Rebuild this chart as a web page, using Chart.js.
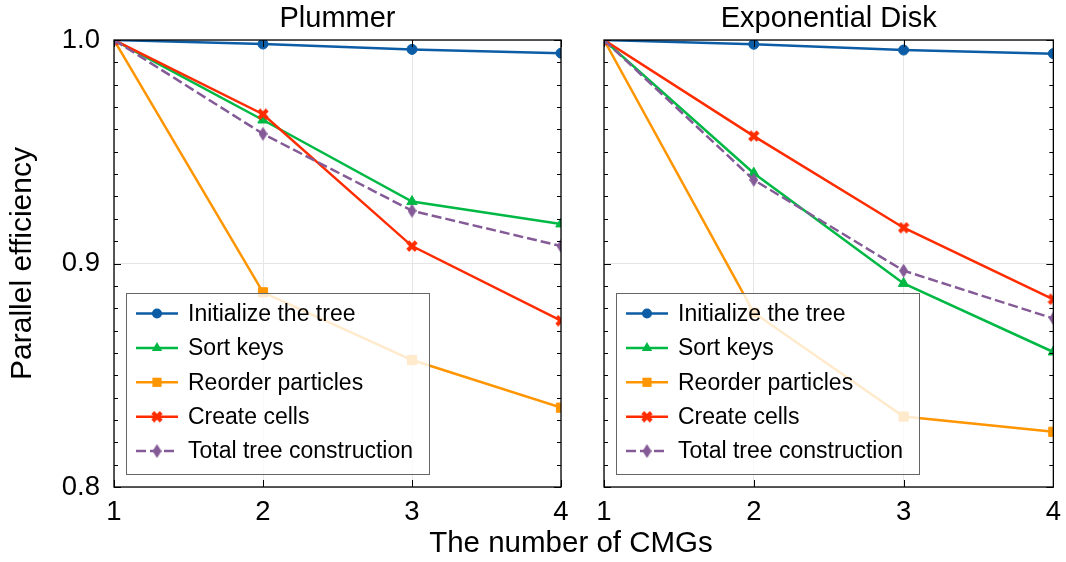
<!DOCTYPE html>
<html>
<head>
<meta charset="utf-8">
<script src="https://cdn.jsdelivr.net/npm/chart.js@4/dist/chart.umd.min.js"></script>
<style>
  html, body { margin: 0; padding: 0; background: #fff; }
  #wrap { position: relative; width: 1066px; height: 562px; overflow: hidden; font-family: "Liberation Sans", Arial, sans-serif; }
  canvas { position: absolute; top: 0; }
  #c-left { left: 0; }
  #c-right { left: 583px; }
  #xlabel { position: absolute; left: 371px; width: 400px; top: 525px; text-align: center; font-size: 29.5px; line-height: 34px; color: #000; }
</style>
</head>
<body>
<div id="wrap">
  <canvas id="c-left" width="583" height="562"></canvas>
  <canvas id="c-right" width="487" height="562"></canvas>
  <div id="xlabel">The number of CMGs</div>
</div>
<script>
"use strict";

// --- data ---
const CMGS = [1, 2, 3, 4];
const SERIES = ["Initialize the tree", "Sort keys", "Reorder particles", "Create cells", "Total tree construction"];
const Y_TICKS = [0.8, 0.9, 1.0];

const plInit    = [1.0, 0.9982, 0.9958, 0.9941];
const plSort    = [1.0, 0.9642, 0.9277, 0.9177];
const plReorder = [1.0, 0.8871, 0.8568, 0.8355];
const plCells   = [1.0, 0.9668, 0.9078, 0.8744];
const plTotal   = [1.0, 0.9580, 0.9236, 0.9078];

const edInit    = [1.0, 0.9981, 0.9955, 0.9939];
const edSort    = [1.0, 0.9404, 0.8911, 0.8604];
const edReorder = [1.0, 0.8780, 0.8315, 0.8247];
const edCells   = [1.0, 0.9570, 0.9160, 0.8840];
const edTotal   = [1.0, 0.9374, 0.8968, 0.8754];

const COLORS = ["#0C5DA5", "#00B945", "#FF9500", "#FF2C00", "#845B97"];
const FONT = "'Liberation Sans', Arial, sans-serif";

// filled "X" marker like matplotlib's
function xMarker(color, s) {
  const c = document.createElement("canvas");
  c.width = s; c.height = s;
  const g = c.getContext("2d");
  const h = s / 2, t = s * 0.17;
  g.translate(h, h);
  g.rotate(Math.PI / 4);
  g.fillStyle = color;
  g.beginPath();
  g.rect(-h, -t, s, 2 * t);
  g.rect(-t, -h, 2 * t, s);
  g.fill();
  return c;
}
// thin diamond ("d")
function thinDiamond(color, w, hgt) {
  const c = document.createElement("canvas");
  c.width = w; c.height = hgt;
  const g = c.getContext("2d");
  g.fillStyle = color;
  g.beginPath();
  g.moveTo(w / 2, 0); g.lineTo(w, hgt / 2); g.lineTo(w / 2, hgt); g.lineTo(0, hgt / 2);
  g.closePath(); g.fill();
  return c;
}

const X_IMG = xMarker(COLORS[3], 12);
const D_IMG = thinDiamond(COLORS[4], 9, 14);
const STYLES = [
  { pointStyle: "circle", radius: 5 },
  { pointStyle: "triangle", radius: 6 },
  { pointStyle: "rect", radius: 6.5 },
  { pointStyle: X_IMG, radius: 6 },
  { pointStyle: D_IMG, radius: 7 },
];

function datasets(values) {
  return values.map((v, i) => ({
    label: SERIES[i],
    data: CMGS.map((x, k) => ({ x, y: v[k] })),
    borderColor: COLORS[i],
    backgroundColor: COLORS[i],
    borderWidth: 2.5,
    borderDash: i === 4 ? [10, 4] : [],
    pointStyle: STYLES[i].pointStyle,
    pointRadius: STYLES[i].radius,
    pointBorderWidth: 1,
    pointBorderColor: COLORS[i],
    pointBackgroundColor: COLORS[i],
    order: 4 - i, // later series on top, as in the original
  }));
}

function drawMarker(ctx, i, x, y) {
  const st = STYLES[i].pointStyle;
  ctx.fillStyle = COLORS[i];
  if (st instanceof HTMLCanvasElement) { ctx.drawImage(st, x - st.width / 2, y - st.height / 2); return; }
  ctx.beginPath();
  if (st === "circle") ctx.arc(x, y, 5, 0, Math.PI * 2);
  else if (st === "triangle") { ctx.moveTo(x, y - 6); ctx.lineTo(x + 5.2, y + 3); ctx.lineTo(x - 5.2, y + 3); ctx.closePath(); }
  else ctx.rect(x - 4.6, y - 4.6, 9.2, 9.2);
  ctx.fill();
}

// panel title, inward ticks, frame and the in-axes legend
const framePlugin = {
  id: "frame",
  afterDatasetsDraw(chart, args, opts) {
    const { ctx, chartArea: a, scales: { x, y } } = chart;
    ctx.save();
    ctx.fillStyle = "#000";
    ctx.font = "29px " + FONT;
    ctx.textAlign = "center";
    ctx.textBaseline = "alphabetic";
    ctx.fillText(opts.title, (a.left + a.right) / 2, 27);
    ctx.textAlign = "left";

    ctx.strokeStyle = "#000";
    ctx.lineWidth = 1;
    ctx.beginPath();
    for (let i = 0; i <= 20; i++) {
      const py = Math.round(y.getPixelForValue(0.8 + i / 100)) + 0.5;
      const len = i % 10 === 0 ? 7 : 4;
      ctx.moveTo(a.left, py); ctx.lineTo(a.left + len, py);
      ctx.moveTo(a.right, py); ctx.lineTo(a.right - len, py);
    }
    CMGS.forEach((v) => {
      const px = Math.round(x.getPixelForValue(v)) + 0.5;
      ctx.moveTo(px, a.bottom); ctx.lineTo(px, a.bottom - 7);
      ctx.moveTo(px, a.top); ctx.lineTo(px, a.top + 7);
    });
    ctx.stroke();
    ctx.lineWidth = 1.3;
    ctx.strokeRect(a.left, a.top, a.right - a.left, a.bottom - a.top);

    // legend
    const lx = a.left + 12, lw = 303, lh = 181, ly = a.bottom - 13 - lh;
    ctx.fillStyle = "rgba(255,255,255,0.8)";
    ctx.fillRect(lx, ly, lw, lh);
    ctx.strokeStyle = "#666";
    ctx.lineWidth = 1;
    ctx.strokeRect(lx + 0.5, ly + 0.5, lw, lh);
    ctx.font = "23px " + FONT;
    ctx.textBaseline = "middle";
    chart.data.datasets.forEach((ds, i) => {
      const ry = ly + 20.5 + i * 34.4;
      ctx.strokeStyle = COLORS[i];
      ctx.lineWidth = 2.5;
      ctx.setLineDash(i === 4 ? [10, 4] : []);
      ctx.beginPath();
      ctx.moveTo(a.left + 22, ry); ctx.lineTo(a.left + 64, ry);
      ctx.stroke();
      ctx.setLineDash([]);
      drawMarker(ctx, i, a.left + 43, ry);
      ctx.fillStyle = "#000";
      ctx.fillText(ds.label, a.left + 74, ry + 1);
    });
    ctx.restore();
  },
};

function makeChart(id, title, values, left) {
  return new Chart(document.getElementById(id), {
    type: "line",
    data: { datasets: datasets(values) },
    options: {
      responsive: false,
      animation: false,
      layout: { padding: { left: 0, right: left ? 22 : 10, top: 40, bottom: 0 } },
      plugins: {
        legend: { display: false },
        tooltip: { enabled: false },
        title: { display: false },
        frame: { title },
      },
      scales: {
        x: {
          type: "linear", min: 1, max: 4,
          afterBuildTicks: (s) => { s.ticks = CMGS.map((v) => ({ value: v })); },
          afterFit: (s) => { s.height = 75; },
          grid: { color: "#e6e6e6", lineWidth: 1, drawTicks: false },
          border: { display: false },
          ticks: { color: "#000", padding: 9, maxRotation: 0, font: { family: FONT, size: 27.5 } },
        },
        y: {
          min: 0.8, max: 1.0,
          afterBuildTicks: (s) => { s.ticks = Y_TICKS.map((v) => ({ value: v })); },
          afterFit: (s) => { s.width = left ? 114 : 21; },
          grid: { color: "#e6e6e6", lineWidth: 1, drawTicks: false },
          border: { display: false },
          ticks: { display: left, color: "#000", padding: 14,
            font: { family: FONT, size: 27.5 }, callback: (v) => v.toFixed(1) },
          title: { display: left, text: "Parallel efficiency", color: "#000",
            font: { family: FONT, size: 30 }, padding: { top: 5, bottom: 0 } },
        },
      },
    },
    plugins: [framePlugin],
  });
}

makeChart("c-left", "Plummer", [plInit, plSort, plReorder, plCells, plTotal], true);
makeChart("c-right", "Exponential Disk", [edInit, edSort, edReorder, edCells, edTotal], false);
</script>
</body>
</html>
